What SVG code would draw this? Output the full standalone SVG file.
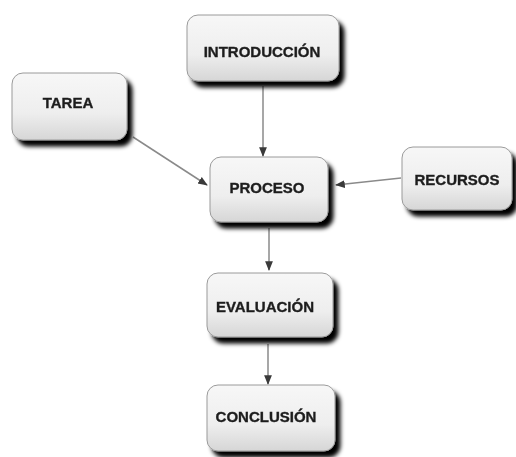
<svg xmlns="http://www.w3.org/2000/svg" width="516" height="457" viewBox="0 0 516 457">
<defs>
<style>
.box{fill:url(#g);stroke:#9a9a9a;stroke-width:1}
.lbl{font-family:"Liberation Sans",Arial,sans-serif;font-weight:bold;font-size:15px;fill:#1e1e1e;stroke:#1e1e1e;stroke-width:0.35;text-anchor:middle}
.c{stroke:#8a8a8a;stroke-width:1.5;fill:none;marker-end:url(#ah)}
</style>
<linearGradient id="g" x1="0" y1="0" x2="0" y2="1">
<stop offset="0" stop-color="#f7f7f7"/>
<stop offset="0.6" stop-color="#eeeeee"/>
<stop offset="1" stop-color="#d6d6d6"/>
</linearGradient>
<filter id="sh" x="-20%" y="-20%" width="150%" height="160%">
<feGaussianBlur in="SourceAlpha" stdDeviation="2"/>
<feOffset dx="5" dy="6" result="b"/>
<feComponentTransfer><feFuncA type="linear" slope="1"/></feComponentTransfer>
<feMerge><feMergeNode/><feMergeNode in="SourceGraphic"/></feMerge>
</filter>
<marker id="ah" viewBox="0 0 10 10" refX="9" refY="5" markerWidth="6.5" markerHeight="6.5" orient="auto" markerUnits="strokeWidth">
<path d="M0,1 L10,5 L0,9 Z" fill="#3a3a3a"/>
</marker>
</defs>
<rect width="516" height="457" fill="#ffffff"/>
<g id="connectors">
<line class="c" x1="263" y1="86" x2="263" y2="156"/>
<line class="c" x1="133" y1="137" x2="207" y2="185"/>
<line class="c" x1="401" y1="178" x2="336" y2="185"/>
<line class="c" x1="269" y1="228" x2="269" y2="270"/>
<line class="c" x1="268" y1="344" x2="268" y2="384"/>
</g>
<g id="introduccion" filter="url(#sh)">
<rect class="box" x="187" y="15" width="152" height="66" rx="11"/>
<text class="lbl" x="262" y="57">INTRODUCCIÓN</text>
</g>
<g id="tarea" filter="url(#sh)">
<rect class="box" x="12" y="73" width="115" height="67" rx="11"/>
<text class="lbl" x="68" y="108">TAREA</text>
</g>
<g id="proceso" filter="url(#sh)">
<rect class="box" x="210" y="157" width="118" height="65" rx="11"/>
<text class="lbl" x="267" y="193">PROCESO</text>
</g>
<g id="recursos" filter="url(#sh)">
<rect class="box" x="402" y="147" width="110" height="63" rx="11"/>
<text class="lbl" x="457" y="185">RECURSOS</text>
</g>
<g id="evaluacion" filter="url(#sh)">
<rect class="box" x="207" y="273" width="126" height="64" rx="11"/>
<text class="lbl" x="265" y="312">EVALUACIÓN</text>
</g>
<g id="conclusion" filter="url(#sh)">
<rect class="box" x="207" y="385" width="128" height="66" rx="11"/>
<text class="lbl" x="266" y="422">CONCLUSIÓN</text>
</g>
</svg>
